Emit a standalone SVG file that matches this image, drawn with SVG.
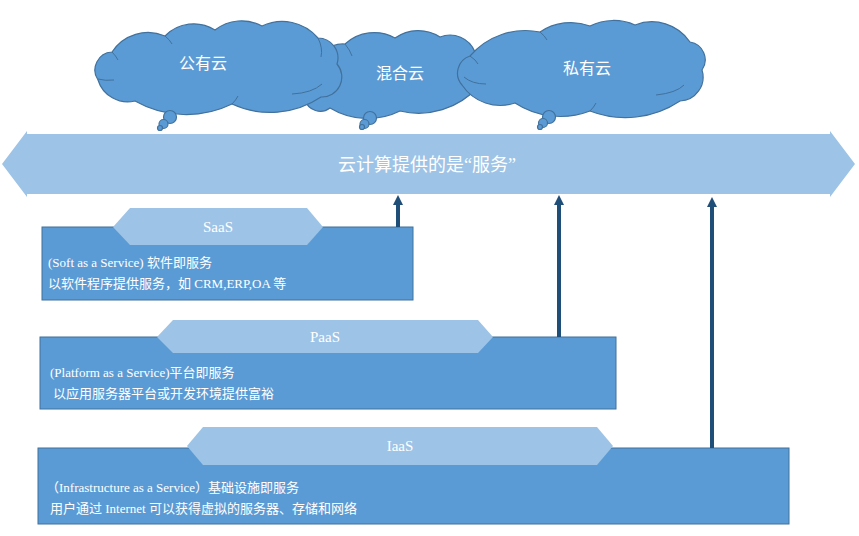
<svg xmlns="http://www.w3.org/2000/svg" width="859" height="536" viewBox="0 0 859 536">
<defs>
<style>
.cloud{fill:#5B9BD5;stroke:#41719C;stroke-width:1.2}
.inner{fill:none;stroke:#41719C;stroke-width:1}
.box{fill:#5B9BD5;stroke:#41719C;stroke-width:1}
.hex{fill:#9DC3E6;stroke:none}
.band{fill:#9DC3E6;stroke:none}
.t{font-family:"Liberation Serif","Noto Sans CJK SC",serif;fill:#FFFFFF}
.ct{font-size:16px;text-anchor:middle}
.ht{font-size:15px;text-anchor:middle}
.bt{font-size:13px}
.up{stroke:#1F4E79;stroke-width:4;fill:none}
</style>
<marker id="ah" markerUnits="userSpaceOnUse" markerWidth="10" markerHeight="10" viewBox="0 0 10 10" refX="0" refY="5" orient="auto">
<path d="M0,0 L10,5 L0,10 Z" fill="#1F4E79"/>
</marker>
</defs>

<g id="cloud-hybrid">
<path class="cloud" d="M305,100 A19 19 0 0 1 315,72 A28 28 0 0 1 345,44 A43 43 0 0 1 395,38 A40 40 0 0 1 440,37 A27 27 0 0 1 475,52 A21 21 0 0 1 478,87 A80 80 0 0 1 400,111 A73 73 0 0 1 330,108 A16 16 0 0 1 305,100 Z"/>
<path class="inner" d="M345,44 Q350,50 352,56"/>
<circle class="cloud" cx="370" cy="118" r="6.5"/>
<circle class="cloud" cx="364.5" cy="124" r="4.5"/>
<circle class="cloud" cx="362" cy="127" r="2.5"/>
<text class="t ct" x="400" y="79">混合云</text>
</g>

<g id="cloud-public">
<path class="cloud" d="M98,80 A18 18 0 0 1 112,52 A43 43 0 0 1 165,36 A40 40 0 0 1 215,30 A43 43 0 0 1 262,26 A47 47 0 0 1 318,38 A20 20 0 0 1 337,64 A20 20 0 0 1 321,97 A91 91 0 0 1 232,104 A104 104 0 0 1 135,101 A31 31 0 0 1 98,80 Z"/>
<path class="inner" d="M114,80 Q105,81 98,79"/>
<path class="inner" d="M112,52 Q116,56 118,60"/>
<path class="inner" d="M165,36 Q170,40 172,44"/>
<path class="inner" d="M292,94 Q312,93 322,84"/>
<path class="inner" d="M318,38 Q323,48 321,57"/>
<path class="inner" d="M232,104 Q236,100 238,96"/>
<circle class="cloud" cx="170" cy="117" r="6.5"/>
<circle class="cloud" cx="163.5" cy="124" r="4.5"/>
<circle class="cloud" cx="160" cy="128" r="2.5"/>
<text class="t ct" x="203" y="69">公有云</text>
</g>

<g id="cloud-private">
<path class="cloud" d="M462,85 A18 18 0 0 1 470,56 A73 73 0 0 1 540,32 A55 55 0 0 1 590,26 A53 53 0 0 1 635,25 A46 46 0 0 1 690,42 A18 18 0 0 1 702,70 A24 24 0 0 1 680,101 A98 98 0 0 1 590,111 A83 83 0 0 1 515,103 A46 46 0 0 1 462,85 Z"/>
<path class="inner" d="M486,84 Q472,84 464,77"/>
<path class="inner" d="M470,56 Q476,60 478,64"/>
<path class="inner" d="M540,32 Q545,36 547,40"/>
<path class="inner" d="M656,95 Q676,93 684,85"/>
<path class="inner" d="M590,111 Q594,107 596,103"/>
<circle class="cloud" cx="549" cy="117" r="6.5"/>
<circle class="cloud" cx="543" cy="123" r="4.5"/>
<circle class="cloud" cx="540" cy="127" r="2.5"/>
<text class="t ct" x="587" y="74">私有云</text>
</g>

<g id="service-band">
<polygon class="band" points="2,164 27,131 27,134 830,134 830,131 855,164 830,197 830,194 27,194 27,197"/>
<text class="t" x="427" y="171" font-size="18" text-anchor="middle">云计算提供的是“服务”</text>
</g>

<g id="saas">
<rect class="box" x="42" y="227" width="371" height="73"/>
<polygon class="hex" points="113,227 130,208 307,208 323,227 307,245 130,245"/>
<text class="t ht" x="218" y="232">SaaS</text>
<text class="t bt" x="48" y="267">(Soft as a Service)  软件即服务</text>
<text class="t bt" x="48" y="288">以软件程序提供服务，如 CRM,ERP,OA 等</text>
</g>

<g id="paas">
<rect class="box" x="40" y="337" width="576" height="72"/>
<polygon class="hex" points="157,337 173,320 478,320 493,337 478,353 173,353"/>
<text class="t ht" x="325" y="342">PaaS</text>
<text class="t bt" x="50" y="377">(Platform as a Service)平台即服务</text>
<text class="t bt" x="53" y="398">以应用服务器平台或开发环境提供富裕</text>
</g>

<g id="iaas">
<rect class="box" x="38" y="448" width="751" height="76"/>
<polygon class="hex" points="187,446 203,427 597,427 613,446 597,465 203,465"/>
<text class="t ht" x="400" y="451">IaaS</text>
<text class="t bt" x="46" y="492">（Infrastructure as a Service）基础设施即服务</text>
<text class="t bt" x="50" y="513">用户通过 Internet 可以获得虚拟的服务器、存储和网络</text>
</g>

<g id="connectors">
<line class="up" x1="398" y1="227" x2="398" y2="205" marker-end="url(#ah)"/>
<line class="up" x1="559" y1="337" x2="559" y2="205" marker-end="url(#ah)"/>
<line class="up" x1="712" y1="448" x2="712" y2="207" marker-end="url(#ah)"/>
</g>
</svg>
